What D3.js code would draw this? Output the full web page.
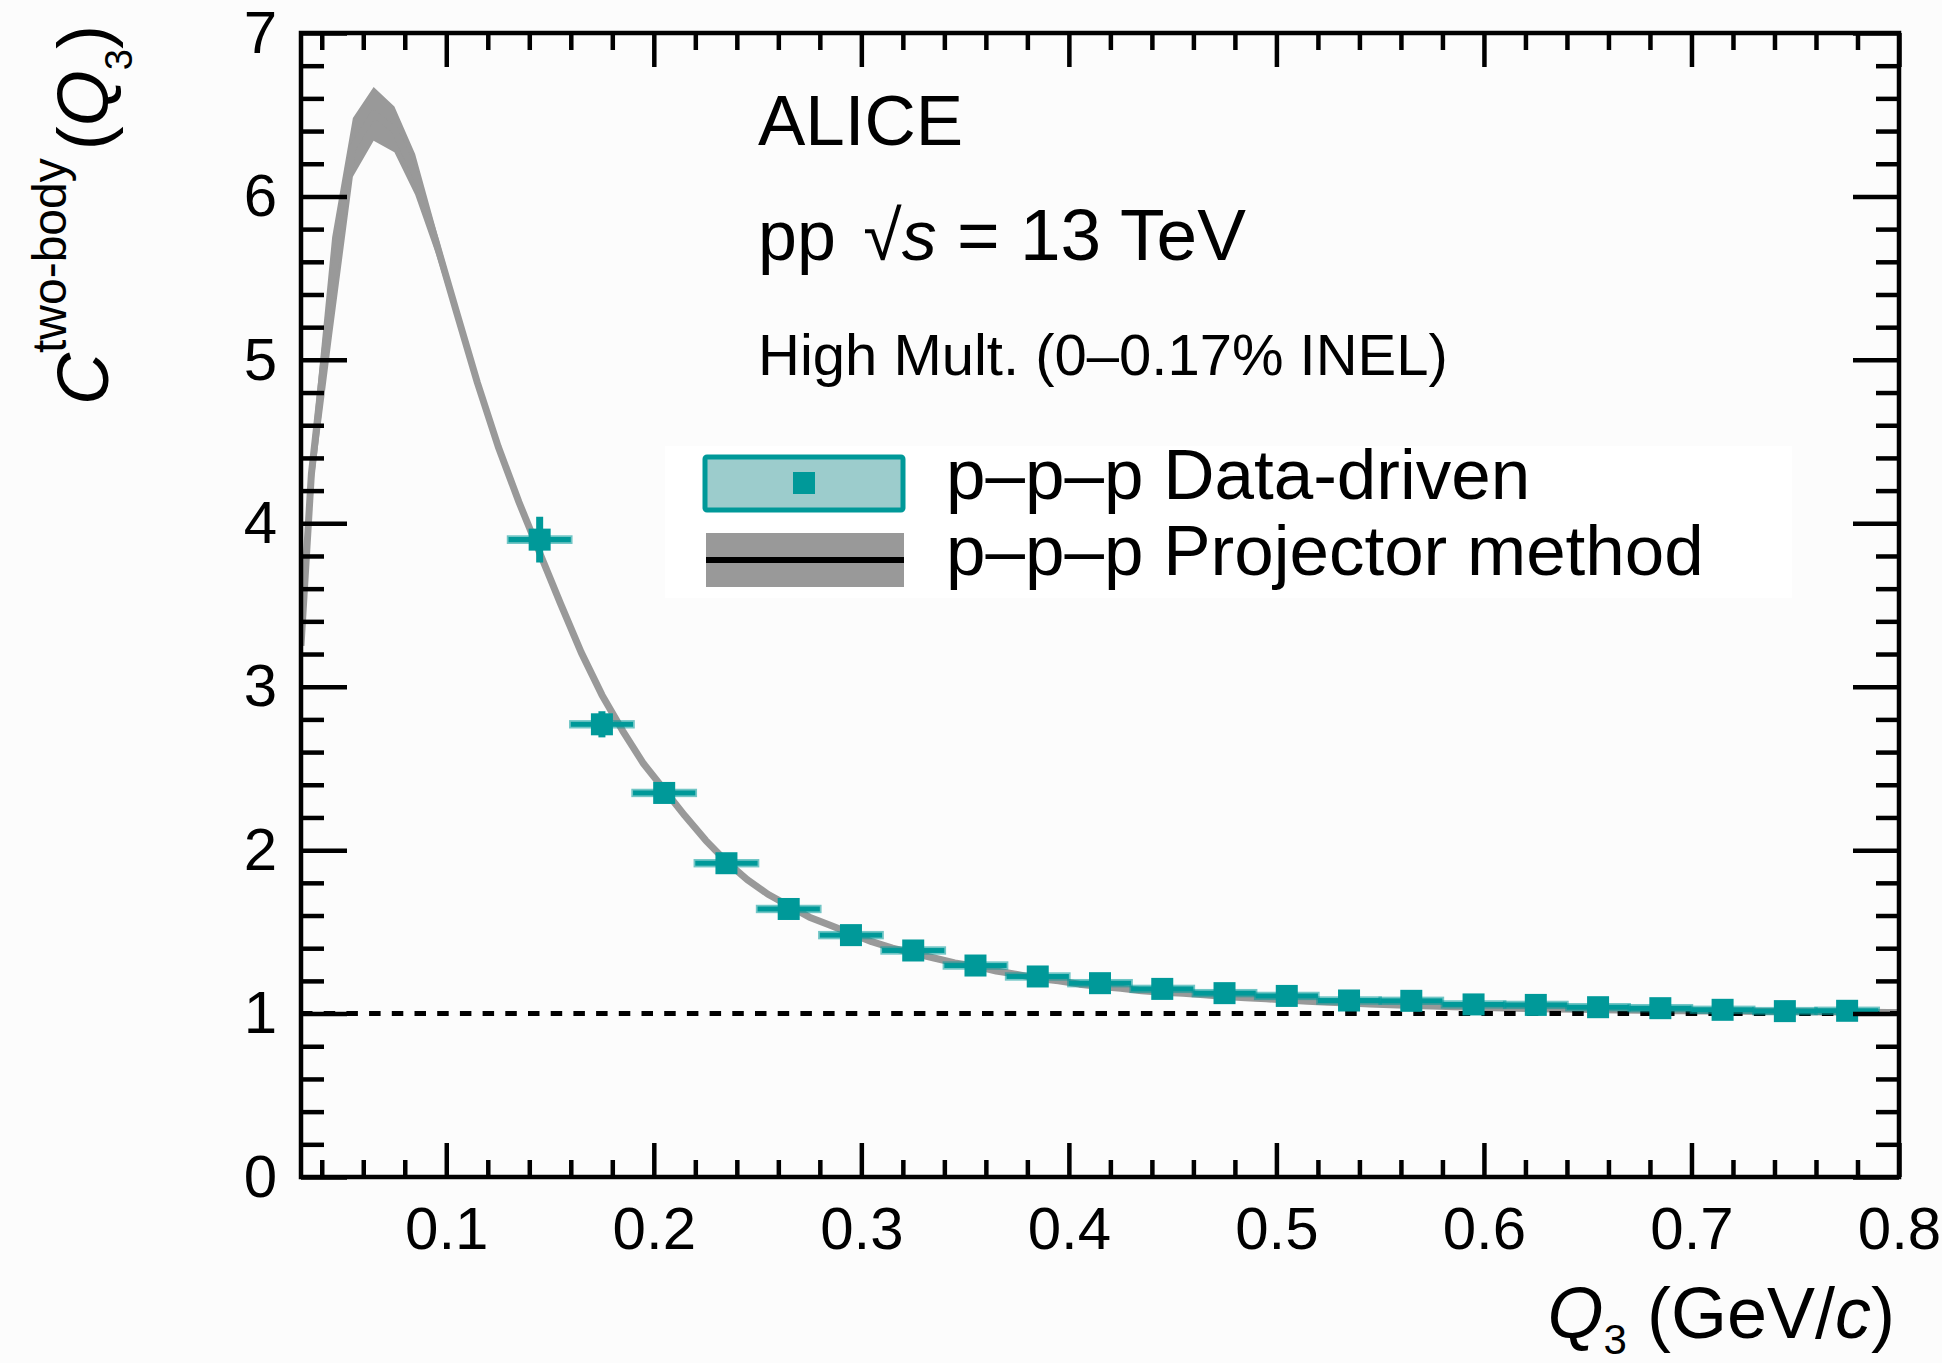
<!DOCTYPE html>
<html>
<head>
<meta charset="utf-8">
<script src="https://cdn.jsdelivr.net/npm/d3@7"></script>
<style>
  html, body { margin: 0; padding: 0; background: #fcfcfc; }
  svg { display: block; font-family: "Liberation Sans", Arial, Helvetica, sans-serif; }
</style>
</head>
<body>
<div id="chart"></div>
<script>
// ---- p–p–p two-body correlation, data-driven points ----
const dataQ = [0.145, 0.175, 0.205, 0.235, 0.265, 0.295, 0.325, 0.355, 0.385, 0.415, 0.445,
               0.475, 0.505, 0.535, 0.565, 0.595, 0.625, 0.655, 0.685, 0.715, 0.745, 0.775];
const dataC = [3.90, 2.77, 2.35, 1.92, 1.64, 1.48, 1.386, 1.294, 1.227, 1.186, 1.151,
               1.125, 1.108, 1.080, 1.078, 1.056, 1.053, 1.039, 1.033, 1.023, 1.015, 1.017];
const dataStat = [0.14, 0.08, 0.06, 0.05, 0.04, 0.035, 0.03, 0.03, 0.025, 0.025, 0.02,
                  0.02, 0.02, 0.02, 0.02, 0.02, 0.02, 0.02, 0.02, 0.02, 0.02, 0.02];
const dataSyst = [0.016, 0.015, 0.015, 0.015, 0.015, 0.015, 0.015, 0.015, 0.015, 0.015, 0.015,
                  0.015, 0.015, 0.015, 0.015, 0.015, 0.015, 0.015, 0.015, 0.015, 0.015, 0.015];
const binHalfWidth = 0.015;

// ---- projector method: central value and band half-width ----
const projQ = [0.030, 0.035, 0.045, 0.055, 0.065, 0.075, 0.085, 0.095, 0.105, 0.115, 0.125,
               0.135, 0.145, 0.155, 0.165, 0.175, 0.185, 0.195, 0.205, 0.215, 0.225, 0.235,
               0.245, 0.255, 0.265, 0.275, 0.285, 0.295, 0.305, 0.315, 0.325, 0.335, 0.345,
               0.355, 0.365, 0.375, 0.385, 0.395, 0.405, 0.415, 0.425, 0.435, 0.445, 0.455,
               0.465, 0.475, 0.485, 0.495, 0.505, 0.515, 0.525, 0.535, 0.545, 0.555, 0.565,
               0.575, 0.585, 0.595, 0.605, 0.615, 0.625, 0.635, 0.645, 0.655, 0.665, 0.675,
               0.685, 0.695, 0.705, 0.715, 0.725, 0.735, 0.745, 0.755, 0.765, 0.775, 0.785,
               0.795, 0.800];
const projMid = [3.25, 4.30, 5.45, 6.30, 6.505, 6.41, 6.135, 5.725, 5.29, 4.86, 4.47,
                 4.13, 3.82, 3.51, 3.21, 2.95, 2.73, 2.53, 2.37, 2.21, 2.06, 1.93,
                 1.82, 1.73, 1.66, 1.59, 1.54, 1.49, 1.44, 1.40, 1.37, 1.34, 1.31,
                 1.29, 1.26, 1.24, 1.215, 1.20, 1.18, 1.165, 1.155, 1.14, 1.13, 1.125,
                 1.115, 1.105, 1.097, 1.09, 1.083, 1.076, 1.07, 1.064, 1.058, 1.054, 1.05,
                 1.046, 1.042, 1.038, 1.035, 1.032, 1.03, 1.028, 1.026, 1.024, 1.022, 1.02,
                 1.018, 1.017, 1.016, 1.015, 1.014, 1.013, 1.012, 1.011, 1.01, 1.009, 1.008,
                 1.007, 1.007];
const projErr = [0.05, 0.15, 0.30, 0.18, 0.165, 0.14, 0.125, 0.075, 0.05, 0.035, 0.03,
                 0.025, 0.02, 0.02, 0.02, 0.015, 0.015, 0.015, 0.015, 0.012, 0.012, 0.012,
                 0.012, 0.01, 0.01, 0.01, 0.01, 0.01, 0.01, 0.01, 0.01, 0.01, 0.01,
                 0.01, 0.01, 0.01, 0.01, 0.01, 0.01, 0.01, 0.01, 0.01, 0.01, 0.01,
                 0.01, 0.01, 0.01, 0.01, 0.01, 0.01, 0.01, 0.01, 0.01, 0.01, 0.01,
                 0.01, 0.01, 0.01, 0.01, 0.01, 0.01, 0.01, 0.01, 0.01, 0.01, 0.01,
                 0.01, 0.01, 0.01, 0.01, 0.01, 0.01, 0.01, 0.01, 0.01, 0.01, 0.01,
                 0.01, 0.01];

// ---- axis ticks and labels ----
const xTicks = [0.1, 0.2, 0.3, 0.4, 0.5, 0.6, 0.7, 0.8];
const xTickLabels = ["0.1", "0.2", "0.3", "0.4", "0.5", "0.6", "0.7", "0.8"];
const yTicks = [0, 1, 2, 3, 4, 5, 6, 7];
const yTickLabels = ["0", "1", "2", "3", "4", "5", "6", "7"];
const legendLabels = ["p\u2013p\u2013p Data-driven", "p\u2013p\u2013p Projector method"];

// ---- layout ----
const W = 1942, H = 1363;
const frame = { left: 301, right: 1899, top: 33, bottom: 1177 };
const teal = "#009999", tealLight = "#9ccccc", grey = "#999999";

const x = d3.scaleLinear().domain([0.03, 0.8]).range([frame.left, frame.right]);
const y = d3.scaleLinear().domain([0, 7]).range([frame.bottom, frame.top]);

const svg = d3.select("#chart").append("svg")
  .attr("width", W).attr("height", H).attr("viewBox", `0 0 ${W} ${H}`);

svg.append("rect").attr("width", W).attr("height", H).attr("fill", "#fcfcfc");

svg.append("defs").append("clipPath").attr("id", "plot-clip")
  .append("rect")
  .attr("x", frame.left).attr("y", frame.top)
  .attr("width", frame.right - frame.left).attr("height", frame.bottom - frame.top);

const plot = svg.append("g").attr("clip-path", "url(#plot-clip)");

// projector method band + central curve
const proj = projQ.map((q, i) => ({ q, mid: projMid[i], err: projErr[i] }));
plot.append("path")
  .datum(proj)
  .attr("fill", grey)
  .attr("d", d3.area()
    .x(d => x(d.q))
    .y0(d => y(d.mid - d.err))
    .y1(d => y(d.mid + d.err)));
plot.append("path")
  .datum(proj)
  .attr("fill", "none")
  .attr("stroke", grey)
  .attr("stroke-width", 7)
  .attr("stroke-linejoin", "round")
  .attr("d", d3.line().x(d => x(d.q)).y(d => y(d.mid)));

// unity reference line
svg.append("line")
  .attr("x1", frame.left).attr("x2", frame.right)
  .attr("y1", y(1)).attr("y2", y(1))
  .attr("stroke", "#000").attr("stroke-width", 5)
  .attr("stroke-dasharray", "11.5 11.2");

// data-driven points: systematic boxes, statistical bars, markers
const pts = dataQ.map((q, i) => ({ q, c: dataC[i], stat: dataStat[i], syst: dataSyst[i] }));
const gData = svg.append("g");
gData.selectAll("rect.syst").data(pts).join("rect")
  .attr("class", "syst")
  .attr("x", d => x(d.q - binHalfWidth))
  .attr("width", d => x(d.q + binHalfWidth) - x(d.q - binHalfWidth))
  .attr("y", d => y(d.c + d.syst))
  .attr("height", d => y(d.c - d.syst) - y(d.c + d.syst))
  .attr("fill", teal)
  .attr("stroke", teal).attr("stroke-opacity", 0.55).attr("stroke-width", 3.5);
gData.selectAll("line.stat").data(pts).join("line")
  .attr("class", "stat")
  .attr("x1", d => x(d.q)).attr("x2", d => x(d.q))
  .attr("y1", d => y(d.c - d.stat)).attr("y2", d => y(d.c + d.stat))
  .attr("stroke", teal).attr("stroke-width", 7);
const mk = 22;
gData.selectAll("rect.marker").data(pts).join("rect")
  .attr("class", "marker")
  .attr("x", d => x(d.q) - mk / 2).attr("y", d => y(d.c) - mk / 2)
  .attr("width", mk).attr("height", mk)
  .attr("fill", teal);

// legend
const leg = svg.append("g");
leg.append("rect").attr("x", 665).attr("y", 446).attr("width", 1127).attr("height", 152).attr("fill", "#ffffff");
leg.append("rect").attr("x", 705).attr("y", 457).attr("width", 198).attr("height", 53)
  .attr("rx", 2).attr("fill", tealLight).attr("stroke", teal).attr("stroke-width", 5);
leg.append("rect").attr("x", 804 - mk / 2).attr("y", 483 - mk / 2).attr("width", mk).attr("height", mk).attr("fill", teal);
leg.append("rect").attr("x", 706).attr("y", 533).attr("width", 198).attr("height", 54).attr("fill", grey);
leg.append("line").attr("x1", 706).attr("x2", 904).attr("y1", 560).attr("y2", 560)
  .attr("stroke", "#000").attr("stroke-width", 6);
leg.selectAll("text").data(legendLabels).join("text")
  .attr("x", 946).attr("y", (d, i) => 499 + i * 76)
  .attr("font-size", 71).attr("fill", "#000")
  .text(d => d);

// header texts
svg.append("text").attr("x", 758).attr("y", 145).attr("font-size", 71).text("ALICE");
const energy = svg.append("text").attr("x", 758).attr("y", 260).attr("font-size", 70);
energy.append("tspan").text("pp ");
energy.append("tspan").attr("dx", 8).text("\u221A");
energy.append("tspan").attr("font-style", "italic").text("s");
energy.append("tspan").attr("font-size", 73).text(" = 13 TeV");
svg.append("text").attr("x", 758).attr("y", 375).attr("font-size", 58)
  .text("High Mult. (0\u20130.17% INEL)");

// axes: ticks drawn inward on all four sides
function styleAxis(g) {
  g.select(".domain").remove();
  g.selectAll(".tick line").attr("stroke", "#000").attr("stroke-width", 4.5);
  g.selectAll(".tick text").attr("fill", "#000").attr("font-size", 60)
    .attr("font-family", "Liberation Sans, Arial, sans-serif");
}
const xMinor = d3.range(0.04, 0.8001, 0.02).filter(v => Math.abs(v * 10 - Math.round(v * 10)) > 1e-6);
const yMinor = d3.range(0, 7.0001, 0.2).filter(v => Math.abs(v - Math.round(v)) > 1e-6);

svg.append("g").attr("transform", `translate(0,${frame.bottom})`)
  .call(d3.axisBottom(x).tickValues(xTicks).tickSize(-34).tickPadding(29)
    .tickFormat((d, i) => xTickLabels[i]))
  .call(styleAxis);
svg.append("g").attr("transform", `translate(0,${frame.bottom})`)
  .call(d3.axisBottom(x).tickValues(xMinor).tickSize(-17).tickFormat(""))
  .call(styleAxis);
svg.append("g").attr("transform", `translate(0,${frame.top})`)
  .call(d3.axisTop(x).tickValues(xTicks).tickSize(-34).tickFormat(""))
  .call(styleAxis);
svg.append("g").attr("transform", `translate(0,${frame.top})`)
  .call(d3.axisTop(x).tickValues(xMinor).tickSize(-17).tickFormat(""))
  .call(styleAxis);

svg.append("g").attr("transform", `translate(${frame.left},0)`)
  .call(d3.axisLeft(y).tickValues(yTicks).tickSize(-46).tickPadding(24)
    .tickFormat((d, i) => yTickLabels[i]))
  .call(styleAxis);
svg.append("g").attr("transform", `translate(${frame.left},0)`)
  .call(d3.axisLeft(y).tickValues(yMinor).tickSize(-23).tickFormat(""))
  .call(styleAxis);
svg.append("g").attr("transform", `translate(${frame.right},0)`)
  .call(d3.axisRight(y).tickValues(yTicks).tickSize(-46).tickFormat(""))
  .call(styleAxis);
svg.append("g").attr("transform", `translate(${frame.right},0)`)
  .call(d3.axisRight(y).tickValues(yMinor).tickSize(-23).tickFormat(""))
  .call(styleAxis);

svg.append("rect")
  .attr("x", frame.left).attr("y", frame.top)
  .attr("width", frame.right - frame.left).attr("height", frame.bottom - frame.top)
  .attr("fill", "none").attr("stroke", "#000").attr("stroke-width", 4.5);

// axis titles
const xt = svg.append("text").attr("x", 1895).attr("y", 1338)
  .attr("text-anchor", "end").attr("font-size", 72);
xt.append("tspan").attr("font-style", "italic").text("Q");
xt.append("tspan").attr("font-size", 42).attr("dy", 16).text("3");
xt.append("tspan").attr("dy", -16).text(" (GeV/");
xt.append("tspan").attr("font-style", "italic").text("c");
xt.append("tspan").text(")");

const yt = svg.append("text").attr("transform", "translate(108,405) rotate(-90)")
  .attr("font-size", 72);
yt.append("tspan").attr("font-style", "italic").text("C");
yt.append("tspan").attr("font-size", 48).attr("dy", -42).text("two-body");
yt.append("tspan").attr("dy", 42).attr("dx", 8).text("(");
yt.append("tspan").attr("font-style", "italic").text("Q");
yt.append("tspan").attr("font-size", 38).attr("dy", 24).text("3");
yt.append("tspan").attr("dy", -24).text(")");
</script>
</body>
</html>
